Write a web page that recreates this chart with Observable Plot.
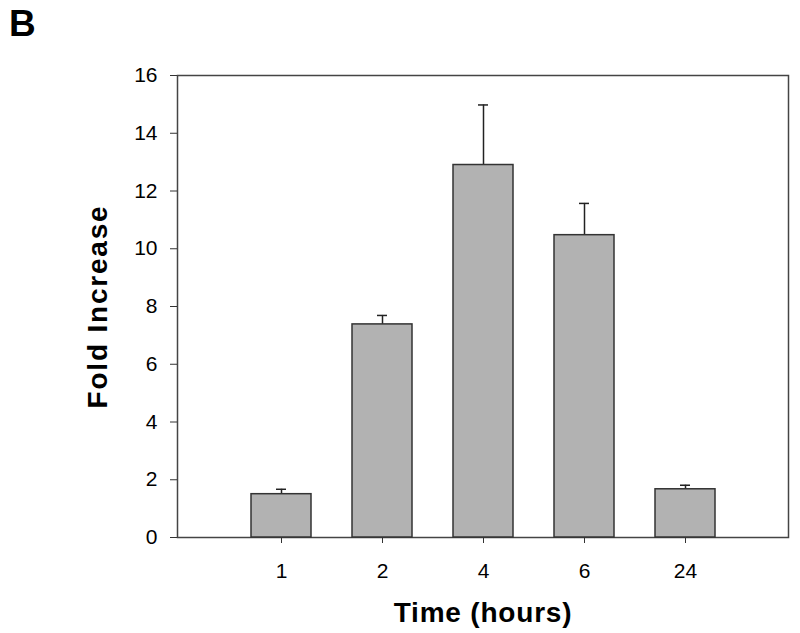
<!DOCTYPE html>
<html>
<head>
<meta charset="utf-8">
<script src="https://cdn.jsdelivr.net/npm/d3@7"></script>
<script src="https://cdn.jsdelivr.net/npm/@observablehq/plot@0.6"></script>
<style>
  body { margin: 0; background: #fff; font-family: "Liberation Sans", Arial, sans-serif; }
  #wrap { position: relative; width: 800px; height: 633px; }
  #panel { position: absolute; left: 9px; top: 3px; font-size: 37px; font-weight: bold; color: #000; }
  svg g[aria-label$="tick label"] { font-size: 21px; }
</style>
</head>
<body>
<div id="wrap"><div id="panel">B</div></div>
<script>
const times = ["1", "2", "4", "6", "24"];
const values = [1.5, 7.38, 12.9, 10.47, 1.67];
const errors = [0.17, 0.31, 2.08, 1.1, 0.14];
const yTicks = [0, 2, 4, 6, 8, 10, 12, 14, 16];

const data = times.map((t, i) => ({time: t, value: values[i], hi: values[i] + errors[i]}));

const chart = Plot.plot({
  width: 800,
  height: 633,
  marginLeft: 177,
  marginRight: 12,
  marginTop: 75,
  marginBottom: 96,
  style: {fontFamily: "'Liberation Sans', Arial, sans-serif", fontSize: "21px", color: "#000", background: "#fff"},
  x: {domain: times, paddingInner: 0.41, paddingOuter: 0.705, label: null},
  y: {domain: [0, 16], label: null},
  marks: [
    Plot.frame({stroke: "#444", strokeWidth: 1.5}),
    Plot.ruleX(data, {x: "time", y1: "value", y2: "hi", stroke: "#222", strokeWidth: 1.5}),
    Plot.tickY(data, {x: "time", y: "hi", insetLeft: 25, insetRight: 25, stroke: "#222", strokeWidth: 1.5}),
    Plot.barY(data, {x: "time", y: "value", fill: "#b2b2b2", stroke: "#333", strokeWidth: 1.5}),
    Plot.axisY({ticks: yTicks, tickSize: 7, tickPadding: 13, stroke: "#333", fontSize: 21,
      label: "Fold Increase", labelAnchor: "center", labelArrow: "none", labelOffset: 90}),
    Plot.axisX({tickSize: 6, tickPadding: 20, stroke: "#333", fontSize: 21,
      label: "Time (hours)", labelAnchor: "center", labelArrow: "none", labelOffset: 84})
  ]
});
chart.querySelectorAll("g[aria-label$='tick label'] text").forEach(t => t.setAttribute("font-size", "21"));
chart.querySelectorAll("g[aria-label$='tick label']").forEach(g => g.setAttribute("font-size", "21"));
chart.querySelectorAll("[aria-label='y-axis label'] text").forEach(t => {
  t.setAttribute("font-weight", "bold");
  t.setAttribute("font-size", "28");
  t.setAttribute("letter-spacing", "1.8");
});
chart.querySelectorAll("[aria-label='x-axis label'] text").forEach(t => {
  t.setAttribute("font-weight", "bold");
  t.setAttribute("font-size", "28");
  t.setAttribute("letter-spacing", "0.8");
});
document.getElementById("wrap").prepend(chart);
</script>
</body>
</html>
